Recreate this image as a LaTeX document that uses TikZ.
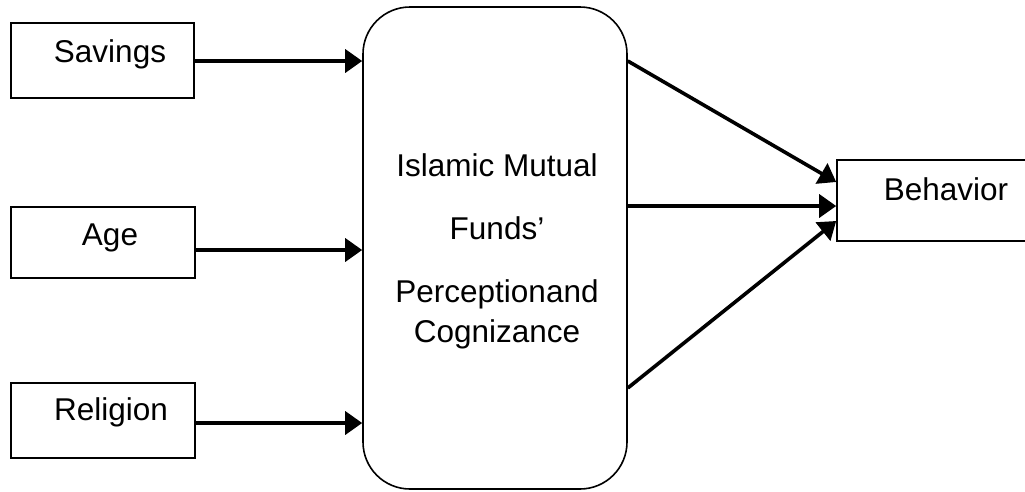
\documentclass[tikz,border=0pt]{standalone}
\usepackage{fontspec}
\setmainfont{Liberation Sans}
\usetikzlibrary{arrows.meta}
\begin{document}
\begin{tikzpicture}[x=1pt,y=-1pt,
  box/.style={draw, line width=1.6pt, inner sep=0pt},
  lbl/.style={anchor=base, inner sep=0pt, font=\fontsize{31.5}{37}\selectfont},
  arr/.style={line width=3.6pt, -{Triangle[length=17pt,width=23pt]}}]
\useasboundingbox (0,0) rectangle (1025,491);
% boxes
\node[box, minimum width=183pt, minimum height=75pt] (sav) at (102.5,60.5) {};
\node[box, minimum width=184pt, minimum height=71pt] (age) at (103,242.5) {};
\node[box, minimum width=184pt, minimum height=75pt] (rel) at (103,420.5) {};
\node[box, rounded corners=47pt, minimum width=264pt, minimum height=482pt] (mid) at (495,248) {};
\node[box, minimum width=193pt, minimum height=81pt] (beh) at (933.5,200.5) {};
% labels
\node[lbl] (tsav) at (110,62) {Savings};
\node[lbl] (tage) at (110,245) {Age};
\node[lbl] (trel) at (111,420) {Religion};
\node[lbl] (tm1) at (497,176) {Islamic Mutual};
\node[lbl] (tm2) at (497,239) {Funds’};
\node[lbl] (tm3) at (497,302) {Perceptionand};
\node[lbl] (tm4) at (497,342) {Cognizance};
\node[lbl] (tbeh) at (946,200) {Behavior};
% helper coordinates
\coordinate (y61) at (0,61);
\coordinate (y250) at (0,250);
\coordinate (y423) at (0,423);
\coordinate (y182) at (0,182);
\coordinate (y206) at (0,206);
\coordinate (y221) at (0,221);
\coordinate (y388) at (0,388);
% arrows
\draw[arr] (sav.east |- y61) -- (mid.west |- y61);
\draw[arr] (age.east |- y250) -- (mid.west |- y250);
\draw[arr] (rel.east |- y423) -- (mid.west |- y423);
\draw[arr] (mid.east |- y61) -- (beh.west |- y182);
\draw[arr] (mid.east |- y206) -- (beh.west |- y206);
\draw[arr] (mid.east |- y388) -- (beh.west |- y221);
\end{tikzpicture}
\end{document}
